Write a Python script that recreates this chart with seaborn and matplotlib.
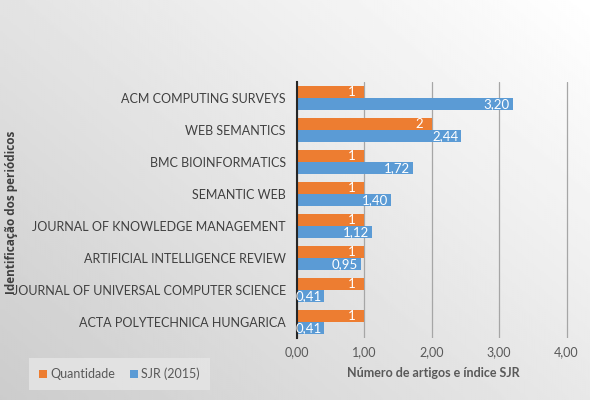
import numpy as np
import pandas as pd
import seaborn as sns
import matplotlib.pyplot as plt

# journals, top to bottom as in the chart
periodicos = [
    "ACM COMPUTING SURVEYS",
    "WEB SEMANTICS",
    "BMC BIOINFORMATICS",
    "SEMANTIC WEB",
    "JOURNAL OF KNOWLEDGE MANAGEMENT",
    "ARTIFICIAL INTELLIGENCE REVIEW",
    "JOURNAL OF UNIVERSAL COMPUTER SCIENCE",
    "ACTA POLYTECHNICA HUNGARICA",
]
quantidade = [1, 2, 1, 1, 1, 1, 1, 1]
sjr = [3.20, 2.44, 1.72, 1.40, 1.12, 0.95, 0.41, 0.41]
series = ["Quantidade", "SJR (2015)"]
x_ticks = [0, 1, 2, 3, 4]

df = pd.DataFrame({
    "periodico": periodicos * 2,
    "valor": quantidade + sjr,
    "serie": [series[0]] * len(periodicos) + [series[1]] * len(periodicos),
})

sns.set_style("white")
plt.rcParams["font.family"] = ["Lato", "DejaVu Sans"]

fig = plt.figure(figsize=(5.9, 4.0), dpi=100)

# soft grey gradient background like the office chart
bg = fig.add_axes([0, 0, 1, 1], zorder=-10)
yy, xx = np.mgrid[0:1:200j, 0:1:300j]
grad = 0.80 + 0.2 * (0.55 * xx + 0.45 * (1 - yy))
bg.imshow(grad, cmap="gray", vmin=0, vmax=1, aspect="auto", origin="upper",
          extent=[0, 1, 0, 1])
bg.axis("off")

ax = fig.add_axes([0.503, 0.155, 0.463, 0.64])
ax.patch.set_alpha(0)

palette = {"Quantidade": "#ED7D31", "SJR (2015)": "#5B9BD5"}
sns.barplot(data=df, y="periodico", x="valor", hue="serie", hue_order=series,
            order=periodicos, orient="h", palette=palette, width=0.75,
            saturation=1, linewidth=0, ax=ax, legend=True)

# labels inside the end of each bar, right aligned
for i, cont in enumerate(ax.containers):
    for b in cont:
        v = b.get_width()
        txt = f"{int(v)}" if i == 0 else f"{v:.2f}".replace(".", ",")
        ax.annotate(txt, (v, b.get_y() + b.get_height() / 2),
                    xytext=(-6 if i == 0 else -2, 0), textcoords="offset points",
                    ha="right", va="center", color="white", fontsize=9.5)

ax.set_xlim(0, 4.05)
ax.set_xticks(x_ticks)
ax.set_xticklabels([f"{t:.2f}".replace(".", ",") for t in x_ticks],
                   color="#595959", fontsize=9)
ax.tick_params(axis="y", labelsize=9, colors="#404040", length=0, pad=8)
ax.tick_params(axis="x", length=0, pad=6)
ax.grid(axis="x", color="#a6a6a6", linewidth=0.9)
ax.set_axisbelow(True)
for s in ["top", "right", "bottom"]:
    ax.spines[s].set_visible(False)
ax.spines["left"].set_color("#262626")
ax.spines["left"].set_linewidth(1.5)

ax.set_xlabel("Número de artigos e índice SJR", fontsize=9, color="#595959",
              fontweight="bold", labelpad=6)
ax.set_ylabel("")
fig.text(0.02, 0.47, "Identificação dos periódicos", rotation=90, ha="center",
         va="center", fontsize=8.5, fontweight="bold", color="#404040",
         family=["Open Sans", "DejaVu Sans"])

handles, lbls = ax.get_legend_handles_labels()
ax.legend_.remove()
leg = fig.legend(handles, lbls, loc="center left", bbox_to_anchor=(0.045, 0.065),
                 ncol=2, frameon=True, fontsize=9, handlelength=0.6,
                 handleheight=0.6, columnspacing=1.2, handletextpad=0.3,
                 borderpad=0.5)
leg.get_frame().set_facecolor("#e6e6e6")
leg.get_frame().set_edgecolor("none")
leg.get_frame().set_boxstyle("square")
for t in leg.get_texts():
    t.set_color("#595959")

fig.savefig("out.png", dpi=100)
